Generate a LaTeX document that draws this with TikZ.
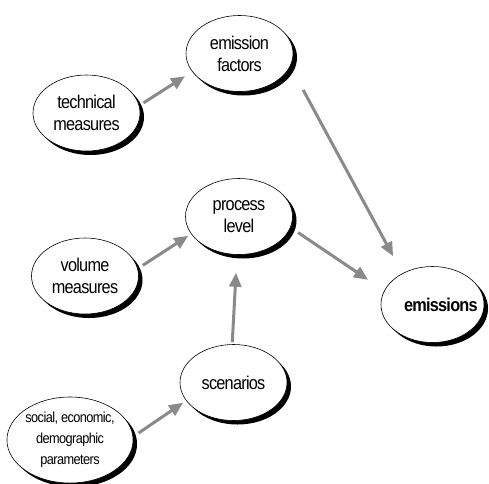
\documentclass[tikz,border=0pt]{standalone}
\usepackage{fontspec}
\usetikzlibrary{shapes.geometric,shadows,arrows.meta}
\newfontfamily\bubblefont{Liberation Sans}[FakeStretch=0.88,LetterSpace=-4]
\definecolor{arrowgray}{RGB}{138,138,138}

\begin{document}
\begin{tikzpicture}[x=1pt,y=-1pt,
    bubble/.style={ellipse,draw,fill=white,line width=0.6pt,inner sep=0pt,align=center,
      minimum width=107pt,minimum height=76pt,
      font=\bubblefont\fontsize{18.5}{22}\selectfont,
      drop shadow={shadow xshift=4pt,shadow yshift=-4pt,fill=black,opacity=1}},
    flow/.style={draw=arrowgray,line width=3pt,-{Triangle[length=14pt,width=12pt]}}]
  \useasboundingbox (0,0) rectangle (489,483);
  \node[bubble] (factors) at (239.5,53.5) {emission\\factors};
  \node[bubble] (technical) at (86.5,113) {technical\\measures};
  \node[bubble] (process) at (239,216.5) {process\\level};
  \node[bubble] (volume) at (85,276) {volume\\measures};
  \node[bubble,minimum width=103pt] (emissions) at (432.5,304.5)
    {\makebox[0pt]{\hspace{16pt}\textbf{emissions}}};
  \node[bubble] (scenarios) at (233.5,382.5) {scenarios};
  \node[bubble,minimum width=124pt,minimum height=86pt,
    font=\bubblefont\fontsize{14.5}{21}\selectfont] (social) at (70,440)
    {social, economic,\\demographic\\parameters};
  % arrows
  \draw[flow,shorten <=5pt,shorten >=8.5pt] (technical.8) -- (factors.201);
  \draw[flow,shorten <=27pt,shorten >=19.5pt] (factors.346) -- (emissions.134);
  \draw[flow,shorten <=9pt,shorten >=19.5pt] (process.348) -- (emissions.164);
  \draw[flow,shorten <=6pt,shorten >=3.5pt] (volume.8) -- (process.200);
  \draw[flow,shorten <=2pt,shorten >=18pt] (scenarios.92) -- (process.267);
  \draw[flow,shorten <=6.5pt,shorten >=3.7pt] (social.3) -- (scenarios.201);
\end{tikzpicture}
\end{document}
